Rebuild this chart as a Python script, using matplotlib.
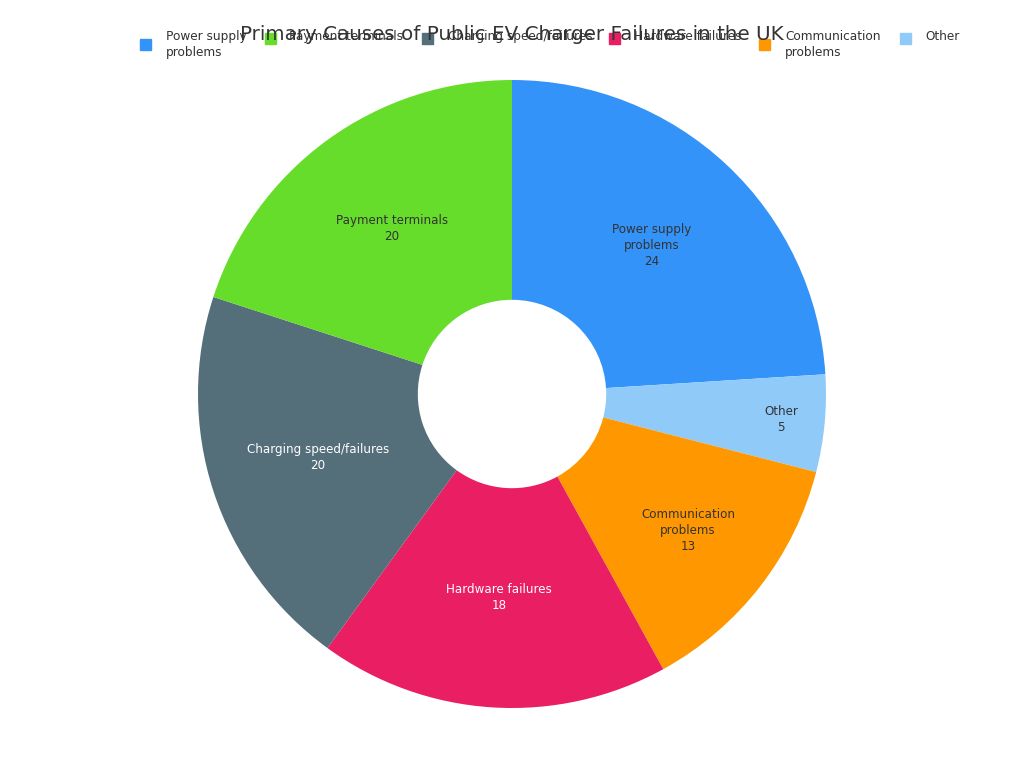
import matplotlib.pyplot as plt
import matplotlib.patches as mpatches
import numpy as np

# data (clockwise from top, as drawn)
categories = ["Power supply\nproblems", "Other", "Communication\nproblems",
              "Hardware failures", "Charging speed/failures", "Payment terminals"]
values = [24, 5, 13, 18, 20, 20]
colors = ["#3393F8", "#90CAF9", "#FF9800", "#E91E63", "#546E7A", "#66DD2A"]
text_colors = ["#333333", "#333333", "#333333", "white", "white", "#333333"]
label_dist = [0.65, 0.86, 0.71, 0.65, 0.65, 0.65]

# legend order
legend_order = [0, 5, 4, 3, 2, 1]
legend_sq_x = [140, 265, 422, 609, 759, 900]
legend_txt_x = [166, 289, 448, 634, 785, 925]

title = "Primary Causes of Public EV Charger Failures in the UK"

W, H = 1024, 768
fig = plt.figure(figsize=(10.24, 7.68), dpi=100)
cx, cy, R = 512, 394, 314
ax = fig.add_axes([(cx - R) / W, (H - cy - R) / H, 2 * R / W, 2 * R / H])

wedges, _ = ax.pie(values, colors=colors, startangle=90, counterclock=False,
                   radius=1, wedgeprops=dict(width=0.7, linewidth=0))
ax.set_xlim(-1, 1)
ax.set_ylim(-1, 1)
ax.set_aspect("equal")
ax.axis("off")

for w, cat, v, tc, d in zip(wedges, categories, values, text_colors, label_dist):
    ang = np.deg2rad((w.theta1 + w.theta2) / 2)
    ax.text(d * np.cos(ang), d * np.sin(ang), f"{cat}\n{v}", ha="center", va="center",
            fontsize=8.6, color=tc, linespacing=1.3)

# legend drawn by hand along the top
for i, sx, tx in zip(legend_order, legend_sq_x, legend_txt_x):
    lines = categories[i].count("\n") + 1
    ymid = 38 if lines == 1 else 44
    fig.patches.append(mpatches.Rectangle((sx / W, 1 - (ymid + 5.5) / H), 11 / W, 11 / H,
                                          transform=fig.transFigure, color=colors[i]))
    fig.text(tx / W, 1 - 30 / H, categories[i], ha="left", va="top", fontsize=8.7,
             color="#333333", linespacing=1.3)

fig.text(0.5, 1 - 34 / H, title, ha="center", va="center", fontsize=14.3, color="#333333")

fig.savefig("out.png", dpi=100, facecolor="white")
